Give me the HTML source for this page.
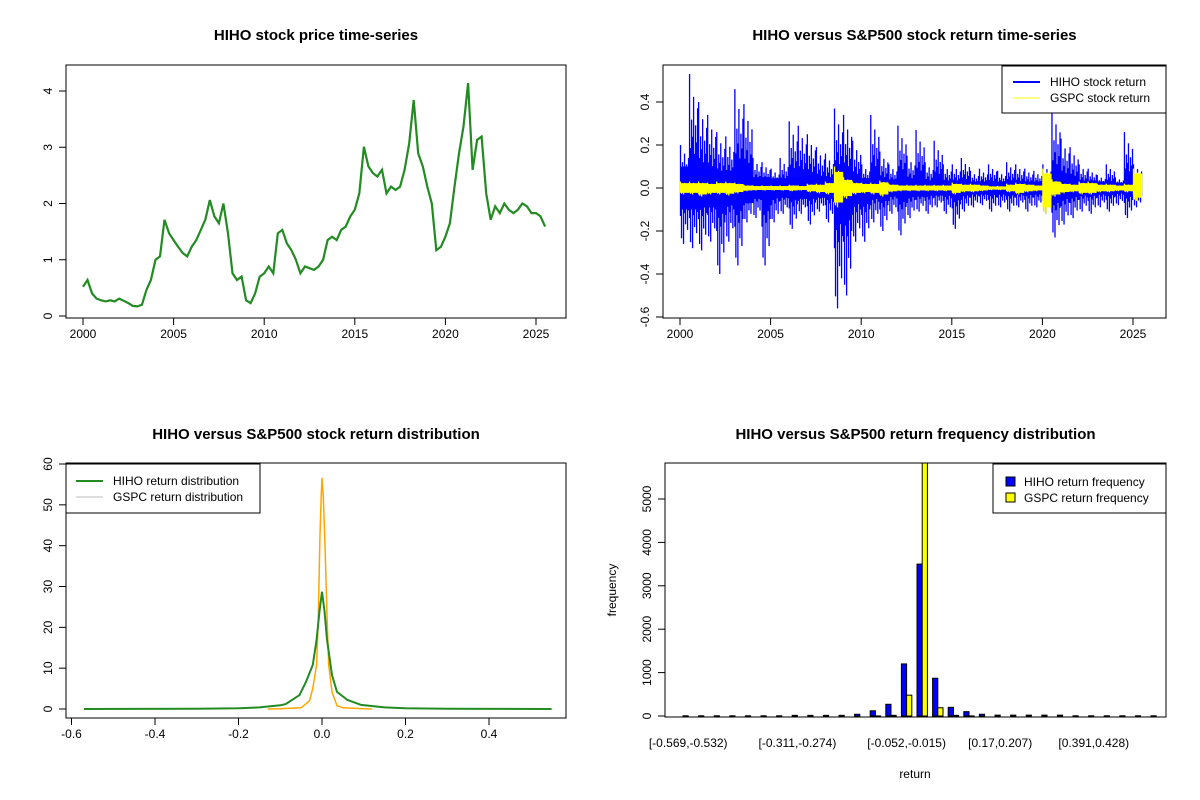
<!DOCTYPE html>
<html><head><meta charset="utf-8"><style>
html,body{margin:0;padding:0;background:#fff}
svg{display:block;font-family:"Liberation Sans",Arial,sans-serif}
</style></head><body>
<svg id="c" width="1200" height="800" viewBox="0 0 1200 800"></svg>
<script>
// ---------- data ----------
const priceStart = 2000;
const priceValues = [0.52,0.64,0.4,0.31, 0.28,0.26,0.28,0.26, 0.31,0.27,0.23,0.18, 0.17,0.2,0.46,0.64,
 1.0,1.06,1.71,1.47, 1.35,1.23,1.12,1.06, 1.23,1.35,1.53,1.71, 2.06,1.77,1.65,2.0,
 1.47,0.76,0.64,0.7, 0.28,0.23,0.4,0.7, 0.76,0.88,0.76,1.47, 1.53,1.29,1.17,1.0,
 0.76,0.88,0.85,0.82, 0.88,1.0,1.35,1.41, 1.35,1.53,1.59,1.77, 1.89,2.18,3.01,2.66,
 2.54,2.48,2.6,2.18, 2.3,2.24,2.3,2.6, 3.07,3.84,2.89,2.66, 2.3,2.0,1.17,1.23,
 1.41,1.65,2.3,2.89, 3.37,4.14,2.6,3.13, 3.19,2.18,1.71,1.95, 1.83,2.0,1.89,1.83,
 1.89,2.0,1.95,1.83, 1.83,1.77,1.59];
const priceTicksX = [2000,2005,2010,2015,2020,2025];
const priceTicksY = [0,1,2,3,4];
const retStart = 2000;
const hihoHi = [0.2,0.53,0.4,0.34,0.26,0.24,0.46,0.39,0.14,0.12,0.09,0.14,0.31,0.29,0.25,0.19,0.16,0.37,0.34,0.22,0.11,0.34,0.17,0.11,0.29,0.15,0.27,0.12,0.22,0.11,0.11,0.14,0.08,0.09,0.11,0.08,0.12,0.11,0.09,0.08,0.11,0.37,0.23,0.19,0.11,0.09,0.06,0.11,0.05,0.26,0.11];
const hihoLo = [-0.26,-0.28,-0.29,-0.25,-0.4,-0.25,-0.36,-0.16,-0.14,-0.36,-0.16,-0.12,-0.19,-0.12,-0.17,-0.11,-0.16,-0.56,-0.5,-0.25,-0.25,-0.16,-0.2,-0.12,-0.22,-0.14,-0.11,-0.12,-0.09,-0.12,-0.19,-0.11,-0.09,-0.08,-0.11,-0.09,-0.11,-0.09,-0.11,-0.09,-0.12,-0.23,-0.17,-0.14,-0.11,-0.12,-0.09,-0.11,-0.08,-0.14,-0.09];
const hihoCore = [0.1,0.1,0.09,0.09,0.08,0.08,0.07,0.07,0.05,0.05,0.045,0.045,0.05,0.05,0.05,0.045,0.05,0.08,0.07,0.05,0.045,0.05,0.045,0.04,0.045,0.035,0.04,0.035,0.035,0.035,0.035,0.035,0.03,0.03,0.03,0.03,0.035,0.03,0.03,0.03,0.03,0.06,0.045,0.04,0.035,0.035,0.03,0.03,0.025,0.03,0.03];
const gspcHi = [0.03,0.03,0.03,0.025,0.03,0.03,0.025,0.015,0.012,0.012,0.012,0.012,0.015,0.012,0.02,0.02,0.03,0.1,0.05,0.03,0.025,0.025,0.035,0.02,0.015,0.015,0.015,0.015,0.015,0.015,0.025,0.02,0.02,0.015,0.01,0.01,0.02,0.025,0.02,0.015,0.09,0.04,0.025,0.02,0.03,0.03,0.02,0.02,0.015,0.02,0.09];
const gspcLo = [-0.03,-0.03,-0.04,-0.03,-0.03,-0.035,-0.025,-0.015,-0.012,-0.012,-0.012,-0.012,-0.015,-0.012,-0.02,-0.025,-0.03,-0.09,-0.05,-0.03,-0.025,-0.03,-0.04,-0.02,-0.015,-0.015,-0.015,-0.015,-0.015,-0.015,-0.03,-0.02,-0.02,-0.015,-0.01,-0.01,-0.02,-0.03,-0.02,-0.015,-0.12,-0.04,-0.025,-0.02,-0.03,-0.03,-0.02,-0.02,-0.015,-0.02,-0.06];
const retTicksY = [0.4,0.2,0.0,-0.2,-0.4,-0.6];
const hihoDensX = [-0.57,-0.3,-0.2,-0.15,-0.1,-0.087,-0.054,-0.038,-0.022,-0.013,-0.006,0,0.006,0.012,0.024,0.036,0.061,0.094,0.15,0.2,0.3,0.55];
const hihoDensY = [0,0.05,0.2,0.4,0.9,1.2,3.4,6.7,10.8,17,24,28.7,24,17,8.3,4.2,2.2,1.0,0.4,0.2,0.05,0];
const gspcDensX = [-0.13,-0.1,-0.05,-0.03,-0.022,-0.013,-0.009,-0.005,-0.002,0,0.003,0.007,0.012,0.016,0.024,0.036,0.05,0.1,0.12];
const gspcDensY = [0,0.05,0.3,2,5.1,10.8,21.4,41.9,52,56.6,52,41,23,10.8,4.2,0.8,0.3,0.05,0];
const densTicksX = [-0.6,-0.4,-0.2,0,0.2,0.4];
const densTicksY = [0,10,20,30,40,50,60];
const binLabels = ["[-0.569,-0.532)","[-0.311,-0.274)","[-0.052,-0.015)","[0.17,0.207)","[0.391,0.428)"];
const binLabelIdx = [0,7,14,20,26];
const hihoFreq = [5,5,5,5,5,5,5,15,15,15,15,40,120,270,1200,3500,870,200,100,40,20,20,20,20,20,5,5,5,5,5,5];
const gspcFreq = [0,0,0,0,0,0,0,0,0,0,0,0,2,15,480,6000,190,15,2,0,0,0,0,0,0,0,0,0,0,0,0];
const freqTicksY = [0,1000,2000,3000,4000,5000];

// ---------- helpers ----------
const svg = document.getElementById('c');
const NS = 'http://www.w3.org/2000/svg';
function mk(tag, attrs, parent){
  const e = document.createElementNS(NS, tag);
  for (const k in attrs) e.setAttribute(k, attrs[k]);
  (parent||svg).appendChild(e);
  return e;
}
function txt(s, x, y, opts, parent){
  const t = mk('text', Object.assign({x:x, y:y, 'font-size':12, 'text-anchor':'middle', fill:'#000'}, opts||{}), parent);
  t.textContent = s;
  return t;
}
function lin(d0,d1,r0,r1){ return v => r0 + (v-d0)*(r1-r0)/(d1-d0); }
function yAxis(g, ticks, sy, x, fmt){
  mk('line',{x1:x,x2:x,y1:sy(ticks[0]),y2:sy(ticks[ticks.length-1]),stroke:'#000'},g);
  ticks.forEach(v=>{
    const y=sy(v);
    mk('line',{x1:x-7,x2:x,y1:y,y2:y,stroke:'#000'},g);
    const t=txt(fmt?fmt(v):String(v), x-17, y, {transform:`rotate(-90 ${x-17} ${y})`,'dominant-baseline':'middle'},g);
    
    
  });
}
function xAxis(g, ticks, sx, y, fmt){
  mk('line',{x1:sx(ticks[0]),x2:sx(ticks[ticks.length-1]),y1:y,y2:y,stroke:'#000'},g);
  ticks.forEach(v=>{
    const x=sx(v);
    mk('line',{x1:x,x2:x,y1:y,y2:y+7,stroke:'#000'},g);
    const t=txt(fmt?fmt(v):String(v), x, y+20, {},g);
    
    
  });
}
function panel(name, x0,y0,x1,y1, title, ty){
  const g = mk('g',{});
  
  
  const t = txt(title, (x0+x1)/2, ty, {'font-size':15,'font-weight':'bold'}, g);
  
  
  const clip = mk('clipPath',{id:name+'-clip'},g);
  mk('rect',{x:x0,y:y0,width:x1-x0,height:y1-y0},clip);
  const inner = mk('g',{'clip-path':`url(#${name}-clip)`},g);
  return {g, inner, box:()=>{ const b=mk('rect',{x:x0,y:y0,width:x1-x0,height:y1-y0,fill:'none',stroke:'#000'},g);
      }};
}
// visual texture pattern (style only): relative spike heights within a half-year
const spikeUp = [1,0.35,0.6,0.45,0.8,0.3,0.55,0.4,0.7];
const spikeDn = [0.5,0.9,0.35,1,0.45,0.65,0.3,0.75,0.4];

// ---------- panel 1: price ----------
{
  const p = panel('price-panel',66,65,566,318,'HIHO stock price time-series',40);
  const sx = lin(2000,2025,83,536), sy = lin(0,4,316,91);
  const pts = priceValues.map((v,i)=>`${sx(priceStart+i*0.25).toFixed(1)},${sy(v).toFixed(1)}`).join(' ');
  const l = mk('polyline',{points:pts,fill:'none',stroke:'#228b22','stroke-width':2.2},p.inner);
  
  
  p.box();
  xAxis(p.g, priceTicksX, sx, 318);
  yAxis(p.g, priceTicksY, sy, 66);
}
// ---------- panel 2: returns ----------
{
  const p = panel('return-panel',663,65,1166,318,'HIHO versus S&P500 stock return time-series',40);
  const sx = lin(2000,2025,680,1133), sy = lin(0,0.2,188,145);
  const w = sx(2000.5)-sx(2000);
  const gb = mk('g',{},p.inner);
  
  
  hihoHi.forEach((h,i)=>{
    const x = sx(retStart+i*0.5);
    mk('rect',{x:x,y:sy(hihoCore[i]),width:w,height:sy(-hihoCore[i])-sy(hihoCore[i]),fill:'#0000ff'},gb);
    const lo = hihoLo[i];
    spikeUp.forEach((f,k)=>{
      const xx = x + (k+0.5)*w/spikeUp.length;
      const up = Math.max(hihoCore[i], h*f), dn = Math.min(-hihoCore[i], lo*spikeDn[k]);
      mk('line',{x1:xx,x2:xx,y1:sy(up),y2:sy(dn),stroke:'#0000ff','stroke-width':1.3},gb);
    });
  });
  const gy = mk('g',{},p.inner);
  
  
  gspcHi.forEach((h,i)=>{
    const x = sx(retStart+i*0.5);
    mk('rect',{x:x,y:sy(h*0.75),width:w,height:sy(gspcLo[i]*0.75)-sy(h*0.75),fill:'#ffff00'},gy);
    spikeUp.forEach((f,k)=>{
      const xx = x + (k+0.5)*w/spikeUp.length;
      mk('line',{x1:xx,x2:xx,y1:sy(h*f),y2:sy(gspcLo[i]*spikeDn[k]),stroke:'#ffff00','stroke-width':1.3},gy);
    });
  });
  p.box();
  xAxis(p.g, priceTicksX, sx, 318);
  yAxis(p.g, retTicksY, sy, 663, v=>v.toFixed(1));
  const lg = mk('g',{},p.g);
  
  
  mk('rect',{x:1002,y:66,width:164,height:47,fill:'#fff',stroke:'#000'},lg);
  mk('line',{x1:1013,x2:1040,y1:82,y2:82,stroke:'#0000ff','stroke-width':2},lg);
  mk('line',{x1:1013,x2:1040,y1:98,y2:98,stroke:'#ffff00','stroke-width':1},lg);
  txt('HIHO stock return',1050,86,{'text-anchor':'start'},lg);
  txt('GSPC stock return',1050,102,{'text-anchor':'start'},lg);
}
// ---------- panel 3: densities ----------
{
  const p = panel('density-panel',66,463,566,718,'HIHO versus S&P500 stock return distribution',439);
  const sx = lin(0,0.4,322,489), sy = lin(0,60,709,464);
  const pg = hihoDensX.map((v,i)=>`${sx(v).toFixed(1)},${sy(hihoDensY[i]).toFixed(1)}`).join(' ');
  const po = gspcDensX.map((v,i)=>`${sx(v).toFixed(1)},${sy(gspcDensY[i]).toFixed(1)}`).join(' ');
  const lo = mk('polyline',{points:po,fill:'none',stroke:'#ffa500','stroke-width':1.5},p.inner);
  
  
  const lgx = mk('polyline',{points:pg,fill:'none',stroke:'#228b22','stroke-width':2},p.inner);
  
  
  p.box();
  xAxis(p.g, densTicksX, sx, 718, v=>v===0?'0.0':v.toFixed(1));
  yAxis(p.g, densTicksY, sy, 66);
  const lg = mk('g',{},p.g);
  
  
  mk('rect',{x:66,y:464,width:194,height:49,fill:'#fff',stroke:'#000'},lg);
  mk('line',{x1:76,x2:103,y1:481,y2:481,stroke:'#228b22','stroke-width':2},lg);
  mk('line',{x1:76,x2:103,y1:497,y2:497,stroke:'#bebebe','stroke-width':1},lg);
  txt('HIHO return distribution',113,485,{'text-anchor':'start'},lg);
  txt('GSPC return distribution',113,501,{'text-anchor':'start'},lg);
}
// ---------- panel 4: histogram ----------
{
  const p = panel('frequency-panel',665,463,1166,717,'HIHO versus S&P500 return frequency distribution',439);
  const sy = lin(0,5000,716,499);
  const unit = 5.2, x0 = 683;
  const gx = i => x0 + i*3*unit;
  hihoFreq.forEach((v,i)=>{
    const b = mk('rect',{x:gx(i),y:sy(v),width:unit,height:sy(0)-sy(v),fill:'#0000ff',stroke:'#000','stroke-width':1},p.inner);
    
    
  });
  gspcFreq.forEach((v,i)=>{
    const b = mk('rect',{x:gx(i)+unit,y:sy(v),width:unit,height:sy(0)-sy(v),fill:'#ffff00',stroke:'#000','stroke-width':1},p.inner);
    
    
  });
  p.box();
  yAxis(p.g, freqTicksY, sy, 665);
  binLabelIdx.forEach((idx,k)=>{
    const t = txt(binLabels[k], gx(idx)+unit, 747, {}, p.g);
    
    
  });
  const xl = txt('return', 915, 778, {}, p.g);
  
  
  const yl = txt('frequency', 616, 590, {transform:'rotate(-90 616 590)'}, p.g);
  
  
  const lg = mk('g',{},p.g);
  
  
  mk('rect',{x:993,y:464,width:173,height:49,fill:'#fff',stroke:'#000'},lg);
  mk('rect',{x:1006,y:477,width:9,height:9,fill:'#0000ff',stroke:'#000'},lg);
  mk('rect',{x:1006,y:493,width:9,height:9,fill:'#ffff00',stroke:'#000'},lg);
  txt('HIHO return frequency',1024,486,{'text-anchor':'start'},lg);
  txt('GSPC return frequency',1024,502,{'text-anchor':'start'},lg);
}
</script>
</body></html>
